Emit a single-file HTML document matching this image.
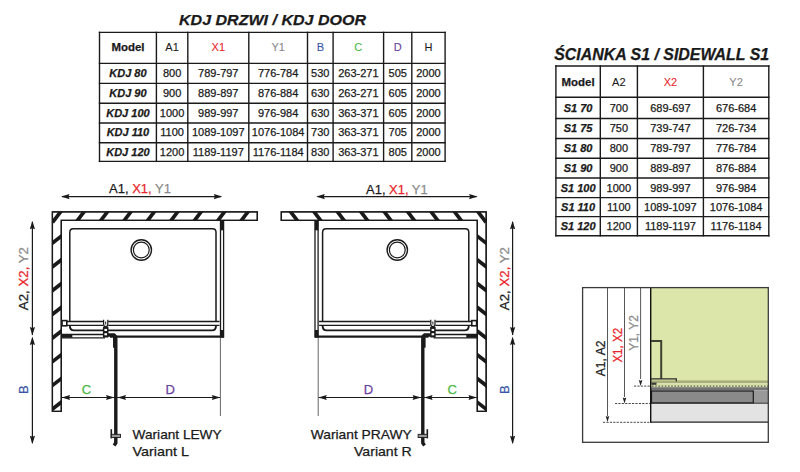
<!DOCTYPE html>
<html><head><meta charset="utf-8"><style>
html,body{margin:0;padding:0;background:#fff;width:800px;height:472px;overflow:hidden;position:relative}
svg text{font-family:"Liberation Sans",sans-serif}
</style></head><body>
<svg width="800" height="472" viewBox="0 0 800 472" style="position:absolute;left:0;top:0">
<text x="272.5" y="25.2" font-size="14.8" fill="#1a1a1a" font-weight="bold" font-style="italic" text-anchor="middle" textLength="187" lengthAdjust="spacingAndGlyphs" stroke="#1a1a1a" stroke-width="0.25" >KDJ DRZWI / KDJ DOOR</text>
<text x="661.7" y="59.6" font-size="15.9" fill="#1a1a1a" font-weight="bold" font-style="italic" text-anchor="middle" textLength="215" lengthAdjust="spacingAndGlyphs" stroke="#1a1a1a" stroke-width="0.25" >ŚCIANKA S1 / SIDEWALL S1</text>
<line x1="99.5" y1="31.7" x2="99.5" y2="162.1" stroke="#1a1a1a" stroke-width="1.4" />
<line x1="156.4" y1="31.7" x2="156.4" y2="162.1" stroke="#1a1a1a" stroke-width="1.4" />
<line x1="187.8" y1="31.7" x2="187.8" y2="162.1" stroke="#1a1a1a" stroke-width="1.4" />
<line x1="248.8" y1="31.7" x2="248.8" y2="162.1" stroke="#1a1a1a" stroke-width="1.4" />
<line x1="307.5" y1="31.7" x2="307.5" y2="162.1" stroke="#1a1a1a" stroke-width="1.4" />
<line x1="333.1" y1="31.7" x2="333.1" y2="162.1" stroke="#1a1a1a" stroke-width="1.4" />
<line x1="383.6" y1="31.7" x2="383.6" y2="162.1" stroke="#1a1a1a" stroke-width="1.4" />
<line x1="411.8" y1="31.7" x2="411.8" y2="162.1" stroke="#1a1a1a" stroke-width="1.4" />
<line x1="445.1" y1="31.7" x2="445.1" y2="162.1" stroke="#1a1a1a" stroke-width="1.4" />
<line x1="98.8" y1="32.4" x2="445.8" y2="32.4" stroke="#1a1a1a" stroke-width="1.4" />
<line x1="98.8" y1="63.4" x2="445.8" y2="63.4" stroke="#1a1a1a" stroke-width="1.4" />
<line x1="98.8" y1="83.4" x2="445.8" y2="83.4" stroke="#1a1a1a" stroke-width="1.4" />
<line x1="98.8" y1="103.2" x2="445.8" y2="103.2" stroke="#1a1a1a" stroke-width="1.4" />
<line x1="98.8" y1="123.0" x2="445.8" y2="123.0" stroke="#1a1a1a" stroke-width="1.4" />
<line x1="98.8" y1="142.7" x2="445.8" y2="142.7" stroke="#1a1a1a" stroke-width="1.4" />
<line x1="98.8" y1="161.4" x2="445.8" y2="161.4" stroke="#1a1a1a" stroke-width="1.4" />
<line x1="555.9" y1="65.3" x2="555.9" y2="236.5" stroke="#1a1a1a" stroke-width="1.4" />
<line x1="600.3" y1="65.3" x2="600.3" y2="236.5" stroke="#1a1a1a" stroke-width="1.4" />
<line x1="637.4" y1="65.3" x2="637.4" y2="236.5" stroke="#1a1a1a" stroke-width="1.4" />
<line x1="703.4" y1="65.3" x2="703.4" y2="236.5" stroke="#1a1a1a" stroke-width="1.4" />
<line x1="768.8" y1="65.3" x2="768.8" y2="236.5" stroke="#1a1a1a" stroke-width="1.4" />
<line x1="555.1999999999999" y1="66.0" x2="769.5" y2="66.0" stroke="#1a1a1a" stroke-width="1.4" />
<line x1="555.1999999999999" y1="97.3" x2="769.5" y2="97.3" stroke="#1a1a1a" stroke-width="1.4" />
<line x1="555.1999999999999" y1="118.5" x2="769.5" y2="118.5" stroke="#1a1a1a" stroke-width="1.4" />
<line x1="555.1999999999999" y1="138.5" x2="769.5" y2="138.5" stroke="#1a1a1a" stroke-width="1.4" />
<line x1="555.1999999999999" y1="158.2" x2="769.5" y2="158.2" stroke="#1a1a1a" stroke-width="1.4" />
<line x1="555.1999999999999" y1="178.0" x2="769.5" y2="178.0" stroke="#1a1a1a" stroke-width="1.4" />
<line x1="555.1999999999999" y1="197.6" x2="769.5" y2="197.6" stroke="#1a1a1a" stroke-width="1.4" />
<line x1="555.1999999999999" y1="216.6" x2="769.5" y2="216.6" stroke="#1a1a1a" stroke-width="1.4" />
<line x1="555.1999999999999" y1="235.8" x2="769.5" y2="235.8" stroke="#1a1a1a" stroke-width="1.4" />
<text x="127.95" y="51.4" font-size="11.0" fill="#1a1a1a" font-weight="bold" font-style="normal" text-anchor="middle" textLength="33" lengthAdjust="spacingAndGlyphs" stroke="#1a1a1a" stroke-width="0.25" >Model</text>
<text x="172.10000000000002" y="51.4" font-size="11.0" fill="#1a1a1a" font-weight="normal" font-style="normal" text-anchor="middle" stroke="#1a1a1a" stroke-width="0.1" >A1</text>
<text x="218.3" y="51.4" font-size="11.0" fill="#e8262b" font-weight="normal" font-style="normal" text-anchor="middle" stroke="#e8262b" stroke-width="0.1" >X1</text>
<text x="278.15" y="51.4" font-size="11.0" fill="#8a8a8a" font-weight="normal" font-style="normal" text-anchor="middle" stroke="#8a8a8a" stroke-width="0.1" >Y1</text>
<text x="320.3" y="51.4" font-size="11.0" fill="#3a56a8" font-weight="normal" font-style="normal" text-anchor="middle" stroke="#3a56a8" stroke-width="0.1" >B</text>
<text x="358.35" y="51.4" font-size="11.0" fill="#4db848" font-weight="normal" font-style="normal" text-anchor="middle" stroke="#4db848" stroke-width="0.1" >C</text>
<text x="397.70000000000005" y="51.4" font-size="11.0" fill="#6a3fa0" font-weight="normal" font-style="normal" text-anchor="middle" stroke="#6a3fa0" stroke-width="0.1" >D</text>
<text x="428.45000000000005" y="51.4" font-size="11.0" fill="#1a1a1a" font-weight="normal" font-style="normal" text-anchor="middle" stroke="#1a1a1a" stroke-width="0.1" >H</text>
<text x="127.95" y="77.0" font-size="11.0" fill="#1a1a1a" font-weight="bold" font-style="italic" text-anchor="middle" stroke="#1a1a1a" stroke-width="0.25" >KDJ 80</text>
<text x="172.10000000000002" y="77.0" font-size="11.0" fill="#1a1a1a" font-weight="normal" font-style="normal" text-anchor="middle" stroke="#1a1a1a" stroke-width="0.25" >800</text>
<text x="218.3" y="77.0" font-size="11.0" fill="#1a1a1a" font-weight="normal" font-style="normal" text-anchor="middle" stroke="#1a1a1a" stroke-width="0.25" >789-797</text>
<text x="278.15" y="77.0" font-size="11.0" fill="#1a1a1a" font-weight="normal" font-style="normal" text-anchor="middle" stroke="#1a1a1a" stroke-width="0.25" >776-784</text>
<text x="320.3" y="77.0" font-size="11.0" fill="#1a1a1a" font-weight="normal" font-style="normal" text-anchor="middle" stroke="#1a1a1a" stroke-width="0.25" >530</text>
<text x="358.35" y="77.0" font-size="11.0" fill="#1a1a1a" font-weight="normal" font-style="normal" text-anchor="middle" stroke="#1a1a1a" stroke-width="0.25" >263-271</text>
<text x="397.70000000000005" y="77.0" font-size="11.0" fill="#1a1a1a" font-weight="normal" font-style="normal" text-anchor="middle" stroke="#1a1a1a" stroke-width="0.25" >505</text>
<text x="428.45000000000005" y="77.0" font-size="11.0" fill="#1a1a1a" font-weight="normal" font-style="normal" text-anchor="middle" stroke="#1a1a1a" stroke-width="0.25" >2000</text>
<text x="127.95" y="96.9" font-size="11.0" fill="#1a1a1a" font-weight="bold" font-style="italic" text-anchor="middle" stroke="#1a1a1a" stroke-width="0.25" >KDJ 90</text>
<text x="172.10000000000002" y="96.9" font-size="11.0" fill="#1a1a1a" font-weight="normal" font-style="normal" text-anchor="middle" stroke="#1a1a1a" stroke-width="0.25" >900</text>
<text x="218.3" y="96.9" font-size="11.0" fill="#1a1a1a" font-weight="normal" font-style="normal" text-anchor="middle" stroke="#1a1a1a" stroke-width="0.25" >889-897</text>
<text x="278.15" y="96.9" font-size="11.0" fill="#1a1a1a" font-weight="normal" font-style="normal" text-anchor="middle" stroke="#1a1a1a" stroke-width="0.25" >876-884</text>
<text x="320.3" y="96.9" font-size="11.0" fill="#1a1a1a" font-weight="normal" font-style="normal" text-anchor="middle" stroke="#1a1a1a" stroke-width="0.25" >630</text>
<text x="358.35" y="96.9" font-size="11.0" fill="#1a1a1a" font-weight="normal" font-style="normal" text-anchor="middle" stroke="#1a1a1a" stroke-width="0.25" >263-271</text>
<text x="397.70000000000005" y="96.9" font-size="11.0" fill="#1a1a1a" font-weight="normal" font-style="normal" text-anchor="middle" stroke="#1a1a1a" stroke-width="0.25" >605</text>
<text x="428.45000000000005" y="96.9" font-size="11.0" fill="#1a1a1a" font-weight="normal" font-style="normal" text-anchor="middle" stroke="#1a1a1a" stroke-width="0.25" >2000</text>
<text x="127.95" y="116.69999999999999" font-size="11.0" fill="#1a1a1a" font-weight="bold" font-style="italic" text-anchor="middle" stroke="#1a1a1a" stroke-width="0.25" >KDJ 100</text>
<text x="172.10000000000002" y="116.69999999999999" font-size="11.0" fill="#1a1a1a" font-weight="normal" font-style="normal" text-anchor="middle" stroke="#1a1a1a" stroke-width="0.25" >1000</text>
<text x="218.3" y="116.69999999999999" font-size="11.0" fill="#1a1a1a" font-weight="normal" font-style="normal" text-anchor="middle" stroke="#1a1a1a" stroke-width="0.25" >989-997</text>
<text x="278.15" y="116.69999999999999" font-size="11.0" fill="#1a1a1a" font-weight="normal" font-style="normal" text-anchor="middle" stroke="#1a1a1a" stroke-width="0.25" >976-984</text>
<text x="320.3" y="116.69999999999999" font-size="11.0" fill="#1a1a1a" font-weight="normal" font-style="normal" text-anchor="middle" stroke="#1a1a1a" stroke-width="0.25" >630</text>
<text x="358.35" y="116.69999999999999" font-size="11.0" fill="#1a1a1a" font-weight="normal" font-style="normal" text-anchor="middle" stroke="#1a1a1a" stroke-width="0.25" >363-371</text>
<text x="397.70000000000005" y="116.69999999999999" font-size="11.0" fill="#1a1a1a" font-weight="normal" font-style="normal" text-anchor="middle" stroke="#1a1a1a" stroke-width="0.25" >605</text>
<text x="428.45000000000005" y="116.69999999999999" font-size="11.0" fill="#1a1a1a" font-weight="normal" font-style="normal" text-anchor="middle" stroke="#1a1a1a" stroke-width="0.25" >2000</text>
<text x="127.95" y="136.45" font-size="11.0" fill="#1a1a1a" font-weight="bold" font-style="italic" text-anchor="middle" stroke="#1a1a1a" stroke-width="0.25" >KDJ 110</text>
<text x="172.10000000000002" y="136.45" font-size="11.0" fill="#1a1a1a" font-weight="normal" font-style="normal" text-anchor="middle" stroke="#1a1a1a" stroke-width="0.25" >1100</text>
<text x="218.3" y="136.45" font-size="11.0" fill="#1a1a1a" font-weight="normal" font-style="normal" text-anchor="middle" stroke="#1a1a1a" stroke-width="0.25" >1089-1097</text>
<text x="278.15" y="136.45" font-size="11.0" fill="#1a1a1a" font-weight="normal" font-style="normal" text-anchor="middle" stroke="#1a1a1a" stroke-width="0.25" >1076-1084</text>
<text x="320.3" y="136.45" font-size="11.0" fill="#1a1a1a" font-weight="normal" font-style="normal" text-anchor="middle" stroke="#1a1a1a" stroke-width="0.25" >730</text>
<text x="358.35" y="136.45" font-size="11.0" fill="#1a1a1a" font-weight="normal" font-style="normal" text-anchor="middle" stroke="#1a1a1a" stroke-width="0.25" >363-371</text>
<text x="397.70000000000005" y="136.45" font-size="11.0" fill="#1a1a1a" font-weight="normal" font-style="normal" text-anchor="middle" stroke="#1a1a1a" stroke-width="0.25" >705</text>
<text x="428.45000000000005" y="136.45" font-size="11.0" fill="#1a1a1a" font-weight="normal" font-style="normal" text-anchor="middle" stroke="#1a1a1a" stroke-width="0.25" >2000</text>
<text x="127.95" y="155.65" font-size="11.0" fill="#1a1a1a" font-weight="bold" font-style="italic" text-anchor="middle" stroke="#1a1a1a" stroke-width="0.25" >KDJ 120</text>
<text x="172.10000000000002" y="155.65" font-size="11.0" fill="#1a1a1a" font-weight="normal" font-style="normal" text-anchor="middle" stroke="#1a1a1a" stroke-width="0.25" >1200</text>
<text x="218.3" y="155.65" font-size="11.0" fill="#1a1a1a" font-weight="normal" font-style="normal" text-anchor="middle" stroke="#1a1a1a" stroke-width="0.25" >1189-1197</text>
<text x="278.15" y="155.65" font-size="11.0" fill="#1a1a1a" font-weight="normal" font-style="normal" text-anchor="middle" stroke="#1a1a1a" stroke-width="0.25" >1176-1184</text>
<text x="320.3" y="155.65" font-size="11.0" fill="#1a1a1a" font-weight="normal" font-style="normal" text-anchor="middle" stroke="#1a1a1a" stroke-width="0.25" >830</text>
<text x="358.35" y="155.65" font-size="11.0" fill="#1a1a1a" font-weight="normal" font-style="normal" text-anchor="middle" stroke="#1a1a1a" stroke-width="0.25" >363-371</text>
<text x="397.70000000000005" y="155.65" font-size="11.0" fill="#1a1a1a" font-weight="normal" font-style="normal" text-anchor="middle" stroke="#1a1a1a" stroke-width="0.25" >805</text>
<text x="428.45000000000005" y="155.65" font-size="11.0" fill="#1a1a1a" font-weight="normal" font-style="normal" text-anchor="middle" stroke="#1a1a1a" stroke-width="0.25" >2000</text>
<text x="578.0999999999999" y="85.6" font-size="11.0" fill="#1a1a1a" font-weight="bold" font-style="normal" text-anchor="middle" textLength="33" lengthAdjust="spacingAndGlyphs" stroke="#1a1a1a" stroke-width="0.25" >Model</text>
<text x="618.8499999999999" y="85.6" font-size="11.0" fill="#1a1a1a" font-weight="normal" font-style="normal" text-anchor="middle" stroke="#1a1a1a" stroke-width="0.1" >A2</text>
<text x="670.4" y="85.6" font-size="11.0" fill="#e8262b" font-weight="normal" font-style="normal" text-anchor="middle" stroke="#e8262b" stroke-width="0.1" >X2</text>
<text x="736.0999999999999" y="85.6" font-size="11.0" fill="#8a8a8a" font-weight="normal" font-style="normal" text-anchor="middle" stroke="#8a8a8a" stroke-width="0.1" >Y2</text>
<text x="578.0999999999999" y="111.7" font-size="11.0" fill="#1a1a1a" font-weight="bold" font-style="italic" text-anchor="middle" stroke="#1a1a1a" stroke-width="0.25" >S1 70</text>
<text x="618.8499999999999" y="111.7" font-size="11.0" fill="#1a1a1a" font-weight="normal" font-style="normal" text-anchor="middle" stroke="#1a1a1a" stroke-width="0.25" >700</text>
<text x="670.4" y="111.7" font-size="11.0" fill="#1a1a1a" font-weight="normal" font-style="normal" text-anchor="middle" stroke="#1a1a1a" stroke-width="0.25" >689-697</text>
<text x="736.0999999999999" y="111.7" font-size="11.0" fill="#1a1a1a" font-weight="normal" font-style="normal" text-anchor="middle" stroke="#1a1a1a" stroke-width="0.25" >676-684</text>
<text x="578.0999999999999" y="132.3" font-size="11.0" fill="#1a1a1a" font-weight="bold" font-style="italic" text-anchor="middle" stroke="#1a1a1a" stroke-width="0.25" >S1 75</text>
<text x="618.8499999999999" y="132.3" font-size="11.0" fill="#1a1a1a" font-weight="normal" font-style="normal" text-anchor="middle" stroke="#1a1a1a" stroke-width="0.25" >750</text>
<text x="670.4" y="132.3" font-size="11.0" fill="#1a1a1a" font-weight="normal" font-style="normal" text-anchor="middle" stroke="#1a1a1a" stroke-width="0.25" >739-747</text>
<text x="736.0999999999999" y="132.3" font-size="11.0" fill="#1a1a1a" font-weight="normal" font-style="normal" text-anchor="middle" stroke="#1a1a1a" stroke-width="0.25" >726-734</text>
<text x="578.0999999999999" y="152.15" font-size="11.0" fill="#1a1a1a" font-weight="bold" font-style="italic" text-anchor="middle" stroke="#1a1a1a" stroke-width="0.25" >S1 80</text>
<text x="618.8499999999999" y="152.15" font-size="11.0" fill="#1a1a1a" font-weight="normal" font-style="normal" text-anchor="middle" stroke="#1a1a1a" stroke-width="0.25" >800</text>
<text x="670.4" y="152.15" font-size="11.0" fill="#1a1a1a" font-weight="normal" font-style="normal" text-anchor="middle" stroke="#1a1a1a" stroke-width="0.25" >789-797</text>
<text x="736.0999999999999" y="152.15" font-size="11.0" fill="#1a1a1a" font-weight="normal" font-style="normal" text-anchor="middle" stroke="#1a1a1a" stroke-width="0.25" >776-784</text>
<text x="578.0999999999999" y="171.9" font-size="11.0" fill="#1a1a1a" font-weight="bold" font-style="italic" text-anchor="middle" stroke="#1a1a1a" stroke-width="0.25" >S1 90</text>
<text x="618.8499999999999" y="171.9" font-size="11.0" fill="#1a1a1a" font-weight="normal" font-style="normal" text-anchor="middle" stroke="#1a1a1a" stroke-width="0.25" >900</text>
<text x="670.4" y="171.9" font-size="11.0" fill="#1a1a1a" font-weight="normal" font-style="normal" text-anchor="middle" stroke="#1a1a1a" stroke-width="0.25" >889-897</text>
<text x="736.0999999999999" y="171.9" font-size="11.0" fill="#1a1a1a" font-weight="normal" font-style="normal" text-anchor="middle" stroke="#1a1a1a" stroke-width="0.25" >876-884</text>
<text x="578.0999999999999" y="191.60000000000002" font-size="11.0" fill="#1a1a1a" font-weight="bold" font-style="italic" text-anchor="middle" stroke="#1a1a1a" stroke-width="0.25" >S1 100</text>
<text x="618.8499999999999" y="191.60000000000002" font-size="11.0" fill="#1a1a1a" font-weight="normal" font-style="normal" text-anchor="middle" stroke="#1a1a1a" stroke-width="0.25" >1000</text>
<text x="670.4" y="191.60000000000002" font-size="11.0" fill="#1a1a1a" font-weight="normal" font-style="normal" text-anchor="middle" stroke="#1a1a1a" stroke-width="0.25" >989-997</text>
<text x="736.0999999999999" y="191.60000000000002" font-size="11.0" fill="#1a1a1a" font-weight="normal" font-style="normal" text-anchor="middle" stroke="#1a1a1a" stroke-width="0.25" >976-984</text>
<text x="578.0999999999999" y="210.9" font-size="11.0" fill="#1a1a1a" font-weight="bold" font-style="italic" text-anchor="middle" stroke="#1a1a1a" stroke-width="0.25" >S1 110</text>
<text x="618.8499999999999" y="210.9" font-size="11.0" fill="#1a1a1a" font-weight="normal" font-style="normal" text-anchor="middle" stroke="#1a1a1a" stroke-width="0.25" >1100</text>
<text x="670.4" y="210.9" font-size="11.0" fill="#1a1a1a" font-weight="normal" font-style="normal" text-anchor="middle" stroke="#1a1a1a" stroke-width="0.25" >1089-1097</text>
<text x="736.0999999999999" y="210.9" font-size="11.0" fill="#1a1a1a" font-weight="normal" font-style="normal" text-anchor="middle" stroke="#1a1a1a" stroke-width="0.25" >1076-1084</text>
<text x="578.0999999999999" y="230.0" font-size="11.0" fill="#1a1a1a" font-weight="bold" font-style="italic" text-anchor="middle" stroke="#1a1a1a" stroke-width="0.25" >S1 120</text>
<text x="618.8499999999999" y="230.0" font-size="11.0" fill="#1a1a1a" font-weight="normal" font-style="normal" text-anchor="middle" stroke="#1a1a1a" stroke-width="0.25" >1200</text>
<text x="670.4" y="230.0" font-size="11.0" fill="#1a1a1a" font-weight="normal" font-style="normal" text-anchor="middle" stroke="#1a1a1a" stroke-width="0.25" >1189-1197</text>
<text x="736.0999999999999" y="230.0" font-size="11.0" fill="#1a1a1a" font-weight="normal" font-style="normal" text-anchor="middle" stroke="#1a1a1a" stroke-width="0.25" >1176-1184</text>
<defs><clipPath id="wallclip"><path d="M52.4,211.8 H257.3 V220.3 H61.3 V411.3 H52.4 Z"/></clipPath></defs>
<g>
<path d="M52.4,211.8 H257.3 V220.3 H61.3 V411.3 H52.4 Z" fill="#fff" stroke="#1a1a1a" stroke-width="1.3"/>
<g clip-path="url(#wallclip)" stroke="#1a1a1a" stroke-width="3.7">
<line x1="52.55" y1="222.30" x2="62.11" y2="209.80"/>
<line x1="75.97" y1="222.30" x2="85.53" y2="209.80"/>
<line x1="99.39" y1="222.30" x2="108.95" y2="209.80"/>
<line x1="122.81" y1="222.30" x2="132.37" y2="209.80"/>
<line x1="146.23" y1="222.30" x2="155.79" y2="209.80"/>
<line x1="169.65" y1="222.30" x2="179.21" y2="209.80"/>
<line x1="193.07" y1="222.30" x2="202.63" y2="209.80"/>
<line x1="216.49" y1="222.30" x2="226.05" y2="209.80"/>
<line x1="239.91" y1="222.30" x2="249.47" y2="209.80"/>
<line x1="263.33" y1="222.30" x2="272.89" y2="209.80"/>
<line x1="50.40" y1="244.65" x2="63.30" y2="234.65"/>
<line x1="50.40" y1="268.37" x2="63.30" y2="258.37"/>
<line x1="50.40" y1="292.09" x2="63.30" y2="282.09"/>
<line x1="50.40" y1="315.81" x2="63.30" y2="305.81"/>
<line x1="50.40" y1="339.53" x2="63.30" y2="329.53"/>
<line x1="50.40" y1="363.25" x2="63.30" y2="353.25"/>
<line x1="50.40" y1="386.97" x2="63.30" y2="376.97"/>
<line x1="50.40" y1="410.69" x2="63.30" y2="400.69"/>
</g>
<path d="M52.4,211.8 H257.3 V220.3 H61.3 V411.3 H52.4 Z" fill="none" stroke="#1a1a1a" stroke-width="1.3"/>
<path d="M69.8,321.5 V232.3 Q69.8,228.8 73.3,228.8 H212.5 Q216,228.8 216,232.3 V321.5" fill="none" stroke="#1a1a1a" stroke-width="1.5"/>
<circle cx="141.3" cy="250.0" r="10.2" fill="none" stroke="#1a1a1a" stroke-width="1.4"/>
<circle cx="141.3" cy="250.0" r="7.9" fill="none" stroke="#1a1a1a" stroke-width="1.2"/>
<line x1="220.5" y1="220.3" x2="220.5" y2="337.6" stroke="#1a1a1a" stroke-width="1.3" />
<line x1="223.6" y1="220.3" x2="223.6" y2="337.6" stroke="#1a1a1a" stroke-width="1.3" />
<rect x="220.3" y="220.3" width="3.5" height="10" fill="#1a1a1a"/>
<rect x="220.3" y="330" width="3.5" height="7.6" fill="#1a1a1a"/>
<line x1="61.3" y1="321.5" x2="219.5" y2="321.5" stroke="#1a1a1a" stroke-width="1.3" />
<line x1="61.3" y1="325.4" x2="219.5" y2="325.4" stroke="#1a1a1a" stroke-width="1.3" />
<path d="M69.8,325.4 Q69.8,330.4 74,330.4 H212 Q216,330.4 216,325.4" fill="none" stroke="#1a1a1a" stroke-width="1.9"/>
<line x1="61.3" y1="334.5" x2="105" y2="334.5" stroke="#1a1a1a" stroke-width="1.4" />
<line x1="61.3" y1="337.9" x2="105" y2="337.9" stroke="#1a1a1a" stroke-width="1.4" />
<rect x="61.3" y="334.3" width="11" height="3.4" fill="#1a1a1a"/>
<line x1="110" y1="336.6" x2="223.6" y2="336.6" stroke="#1a1a1a" stroke-width="2.3" />
<rect x="103.2" y="319.5" width="5" height="7" fill="#fff"/>
<path d="M103.6,319.8 V324 Q103.6,326.6 105.7,326.6 Q107.8,326.6 107.8,324 V319.8" fill="none" stroke="#1a1a1a" stroke-width="1.2"/>
<line x1="105.7" y1="321.5" x2="105.7" y2="324.5" stroke="#1a1a1a" stroke-width="1.0" />
<rect x="102.9" y="326.6" width="5.6" height="11" rx="1.2" fill="#1a1a1a"/>
<rect x="104.4" y="328.9" width="2.6" height="2.1" fill="#fff"/>
<rect x="104.4" y="333.2" width="2.6" height="2.1" fill="#fff"/>
<rect x="62" y="320.6" width="4.8" height="5.2" fill="#fff" stroke="#1a1a1a" stroke-width="1.6"/>
<path d="M108,335 H114 Q115.8,336 115.8,339 V443 L114.1,445.5" fill="none" stroke="#1a1a1a" stroke-width="3.4"/>
<line x1="113.9" y1="337" x2="113.9" y2="347.7" stroke="#1a1a1a" stroke-width="1.8" />
<line x1="220.4" y1="337.6" x2="220.4" y2="416" stroke="#555" stroke-width="0.9" />
<line x1="62" y1="397.5" x2="115" y2="397.5" stroke="#1a1a1a" stroke-width="1.2" />
<line x1="117" y1="397.5" x2="220" y2="397.5" stroke="#1a1a1a" stroke-width="1.2" />
<polygon points="61.6,397.5 70.10,394.90 69.08,397.50 70.10,400.10" fill="#1a1a1a"/>
<polygon points="114.5,397.5 106.00,400.10 107.02,397.50 106.00,394.90" fill="#1a1a1a"/>
<polygon points="117.5,397.5 126.00,394.90 124.98,397.50 126.00,400.10" fill="#1a1a1a"/>
<polygon points="220.3,397.5 211.80,400.10 212.82,397.50 211.80,394.90" fill="#1a1a1a"/>
<line x1="111.3" y1="429.2" x2="111.3" y2="438.4" stroke="#1a1a1a" stroke-width="1.6" />
<rect x="111.3" y="434.3" width="9.2" height="3.2" fill="#999" stroke="#1a1a1a" stroke-width="0.9"/>
<line x1="62" y1="196.6" x2="221" y2="196.6" stroke="#1a1a1a" stroke-width="1.2" />
<polygon points="61,196.6 69.50,194.00 68.48,196.60 69.50,199.20" fill="#1a1a1a"/>
<polygon points="222.3,196.6 213.80,199.20 214.82,196.60 213.80,194.00" fill="#1a1a1a"/>
</g>
<g transform="translate(538.6,0) scale(-1,1)">
<g>
<path d="M52.4,211.8 H257.3 V220.3 H61.3 V411.3 H52.4 Z" fill="#fff" stroke="#1a1a1a" stroke-width="1.3"/>
<g clip-path="url(#wallclip)" stroke="#1a1a1a" stroke-width="3.7">
<line x1="52.55" y1="222.30" x2="62.11" y2="209.80"/>
<line x1="75.97" y1="222.30" x2="85.53" y2="209.80"/>
<line x1="99.39" y1="222.30" x2="108.95" y2="209.80"/>
<line x1="122.81" y1="222.30" x2="132.37" y2="209.80"/>
<line x1="146.23" y1="222.30" x2="155.79" y2="209.80"/>
<line x1="169.65" y1="222.30" x2="179.21" y2="209.80"/>
<line x1="193.07" y1="222.30" x2="202.63" y2="209.80"/>
<line x1="216.49" y1="222.30" x2="226.05" y2="209.80"/>
<line x1="239.91" y1="222.30" x2="249.47" y2="209.80"/>
<line x1="263.33" y1="222.30" x2="272.89" y2="209.80"/>
<line x1="50.40" y1="244.65" x2="63.30" y2="234.65"/>
<line x1="50.40" y1="268.37" x2="63.30" y2="258.37"/>
<line x1="50.40" y1="292.09" x2="63.30" y2="282.09"/>
<line x1="50.40" y1="315.81" x2="63.30" y2="305.81"/>
<line x1="50.40" y1="339.53" x2="63.30" y2="329.53"/>
<line x1="50.40" y1="363.25" x2="63.30" y2="353.25"/>
<line x1="50.40" y1="386.97" x2="63.30" y2="376.97"/>
<line x1="50.40" y1="410.69" x2="63.30" y2="400.69"/>
</g>
<path d="M52.4,211.8 H257.3 V220.3 H61.3 V411.3 H52.4 Z" fill="none" stroke="#1a1a1a" stroke-width="1.3"/>
<path d="M69.8,321.5 V232.3 Q69.8,228.8 73.3,228.8 H212.5 Q216,228.8 216,232.3 V321.5" fill="none" stroke="#1a1a1a" stroke-width="1.5"/>
<circle cx="141.3" cy="250.0" r="10.2" fill="none" stroke="#1a1a1a" stroke-width="1.4"/>
<circle cx="141.3" cy="250.0" r="7.9" fill="none" stroke="#1a1a1a" stroke-width="1.2"/>
<line x1="220.5" y1="220.3" x2="220.5" y2="337.6" stroke="#1a1a1a" stroke-width="1.3" />
<line x1="223.6" y1="220.3" x2="223.6" y2="337.6" stroke="#1a1a1a" stroke-width="1.3" />
<rect x="220.3" y="220.3" width="3.5" height="10" fill="#1a1a1a"/>
<rect x="220.3" y="330" width="3.5" height="7.6" fill="#1a1a1a"/>
<line x1="61.3" y1="321.5" x2="219.5" y2="321.5" stroke="#1a1a1a" stroke-width="1.3" />
<line x1="61.3" y1="325.4" x2="219.5" y2="325.4" stroke="#1a1a1a" stroke-width="1.3" />
<path d="M69.8,325.4 Q69.8,330.4 74,330.4 H212 Q216,330.4 216,325.4" fill="none" stroke="#1a1a1a" stroke-width="1.9"/>
<line x1="61.3" y1="334.5" x2="105" y2="334.5" stroke="#1a1a1a" stroke-width="1.4" />
<line x1="61.3" y1="337.9" x2="105" y2="337.9" stroke="#1a1a1a" stroke-width="1.4" />
<rect x="61.3" y="334.3" width="11" height="3.4" fill="#1a1a1a"/>
<line x1="110" y1="336.6" x2="223.6" y2="336.6" stroke="#1a1a1a" stroke-width="2.3" />
<rect x="103.2" y="319.5" width="5" height="7" fill="#fff"/>
<path d="M103.6,319.8 V324 Q103.6,326.6 105.7,326.6 Q107.8,326.6 107.8,324 V319.8" fill="none" stroke="#1a1a1a" stroke-width="1.2"/>
<line x1="105.7" y1="321.5" x2="105.7" y2="324.5" stroke="#1a1a1a" stroke-width="1.0" />
<rect x="102.9" y="326.6" width="5.6" height="11" rx="1.2" fill="#1a1a1a"/>
<rect x="104.4" y="328.9" width="2.6" height="2.1" fill="#fff"/>
<rect x="104.4" y="333.2" width="2.6" height="2.1" fill="#fff"/>
<rect x="62" y="320.6" width="4.8" height="5.2" fill="#fff" stroke="#1a1a1a" stroke-width="1.6"/>
<path d="M108,335 H114 Q115.8,336 115.8,339 V443 L114.1,445.5" fill="none" stroke="#1a1a1a" stroke-width="3.4"/>
<line x1="113.9" y1="337" x2="113.9" y2="347.7" stroke="#1a1a1a" stroke-width="1.8" />
<line x1="220.4" y1="337.6" x2="220.4" y2="416" stroke="#555" stroke-width="0.9" />
<line x1="62" y1="397.5" x2="115" y2="397.5" stroke="#1a1a1a" stroke-width="1.2" />
<line x1="117" y1="397.5" x2="220" y2="397.5" stroke="#1a1a1a" stroke-width="1.2" />
<polygon points="61.6,397.5 70.10,394.90 69.08,397.50 70.10,400.10" fill="#1a1a1a"/>
<polygon points="114.5,397.5 106.00,400.10 107.02,397.50 106.00,394.90" fill="#1a1a1a"/>
<polygon points="117.5,397.5 126.00,394.90 124.98,397.50 126.00,400.10" fill="#1a1a1a"/>
<polygon points="220.3,397.5 211.80,400.10 212.82,397.50 211.80,394.90" fill="#1a1a1a"/>
<line x1="111.3" y1="429.2" x2="111.3" y2="438.4" stroke="#1a1a1a" stroke-width="1.6" />
<rect x="111.3" y="434.3" width="9.2" height="3.2" fill="#999" stroke="#1a1a1a" stroke-width="0.9"/>
<line x1="62" y1="196.6" x2="221" y2="196.6" stroke="#1a1a1a" stroke-width="1.2" />
<polygon points="61,196.6 69.50,194.00 68.48,196.60 69.50,199.20" fill="#1a1a1a"/>
<polygon points="222.3,196.6 213.80,199.20 214.82,196.60 213.80,194.00" fill="#1a1a1a"/>
</g>
</g>
<line x1="32.4" y1="222" x2="32.4" y2="335" stroke="#1a1a1a" stroke-width="1.2" />
<polygon points="32.4,220.7 35.00,229.20 32.40,228.18 29.80,229.20" fill="#1a1a1a"/>
<polygon points="32.4,335.6 29.80,327.10 32.40,328.12 35.00,327.10" fill="#1a1a1a"/>
<line x1="32.4" y1="339" x2="32.4" y2="443" stroke="#1a1a1a" stroke-width="1.2" />
<polygon points="32.4,336.6 35.00,345.10 32.40,344.08 29.80,345.10" fill="#1a1a1a"/>
<polygon points="32.4,444.2 29.80,435.70 32.40,436.72 35.00,435.70" fill="#1a1a1a"/>
<line x1="512.6" y1="222" x2="512.6" y2="335" stroke="#1a1a1a" stroke-width="1.2" />
<polygon points="512.6,220.7 515.20,229.20 512.60,228.18 510.00,229.20" fill="#1a1a1a"/>
<polygon points="512.6,335.6 510.00,327.10 512.60,328.12 515.20,327.10" fill="#1a1a1a"/>
<line x1="512.6" y1="339" x2="512.6" y2="443" stroke="#1a1a1a" stroke-width="1.2" />
<polygon points="512.6,336.6 515.20,345.10 512.60,344.08 510.00,345.10" fill="#1a1a1a"/>
<polygon points="512.6,444.2 510.00,435.70 512.60,436.72 515.20,435.70" fill="#1a1a1a"/>
<text x="109" y="193.0" font-size="13.6" stroke-width="0.25" text-anchor="start" textLength="62" lengthAdjust="spacingAndGlyphs"><tspan fill="#1a1a1a" stroke="#1a1a1a">A1, </tspan><tspan fill="#e8262b" stroke="#e8262b">X1, </tspan><tspan fill="#8a8a8a" stroke="#8a8a8a">Y1</tspan></text>
<text x="366.1" y="193.5" font-size="13.6" stroke-width="0.25" text-anchor="start" textLength="61.6" lengthAdjust="spacingAndGlyphs"><tspan fill="#1a1a1a" stroke="#1a1a1a">A1, </tspan><tspan fill="#e8262b" stroke="#e8262b">X1, </tspan><tspan fill="#8a8a8a" stroke="#8a8a8a">Y1</tspan></text>
<text transform="translate(27.8,278.6) rotate(-90)" font-size="13.3" stroke-width="0.25" text-anchor="middle" textLength="63.2" lengthAdjust="spacingAndGlyphs"><tspan fill="#1a1a1a" stroke="#1a1a1a">A2, </tspan><tspan fill="#e8262b" stroke="#e8262b">X2, </tspan><tspan fill="#8a8a8a" stroke="#8a8a8a">Y2</tspan></text>
<text transform="translate(509.2,278.6) rotate(-90)" font-size="13.3" stroke-width="0.25" text-anchor="middle" textLength="63.2" lengthAdjust="spacingAndGlyphs"><tspan fill="#1a1a1a" stroke="#1a1a1a">A2, </tspan><tspan fill="#e8262b" stroke="#e8262b">X2, </tspan><tspan fill="#8a8a8a" stroke="#8a8a8a">Y2</tspan></text>
<text transform="translate(27.5,389.6) rotate(-90)" font-size="13" stroke-width="0.25" text-anchor="middle"><tspan fill="#3a56a8" stroke="#3a56a8">B</tspan></text>
<text transform="translate(509.0,389.6) rotate(-90)" font-size="13" stroke-width="0.25" text-anchor="middle"><tspan fill="#3a56a8" stroke="#3a56a8">B</tspan></text>
<text x="86.5" y="393.6" font-size="13" fill="#4db848" font-weight="normal" font-style="normal" text-anchor="middle" stroke="#4db848" stroke-width="0.25" >C</text>
<text x="170.2" y="393.6" font-size="13" fill="#6a3fa0" font-weight="normal" font-style="normal" text-anchor="middle" stroke="#6a3fa0" stroke-width="0.25" >D</text>
<text x="368.4" y="393.6" font-size="13" fill="#6a3fa0" font-weight="normal" font-style="normal" text-anchor="middle" stroke="#6a3fa0" stroke-width="0.25" >D</text>
<text x="452.1" y="393.6" font-size="13" fill="#4db848" font-weight="normal" font-style="normal" text-anchor="middle" stroke="#4db848" stroke-width="0.25" >C</text>
<text x="132.6" y="439.3" font-size="13.0" fill="#1a1a1a" font-weight="normal" font-style="normal" text-anchor="start" textLength="89" lengthAdjust="spacingAndGlyphs" stroke="#1a1a1a" stroke-width="0.25" >Wariant LEWY</text>
<text x="132.6" y="456.2" font-size="13.0" fill="#1a1a1a" font-weight="normal" font-style="normal" text-anchor="start" textLength="56.4" lengthAdjust="spacingAndGlyphs" stroke="#1a1a1a" stroke-width="0.25" >Variant L</text>
<text x="411.7" y="439.3" font-size="13.0" fill="#1a1a1a" font-weight="normal" font-style="normal" text-anchor="end" textLength="101" lengthAdjust="spacingAndGlyphs" stroke="#1a1a1a" stroke-width="0.25" >Wariant PRAWY</text>
<text x="411.7" y="456.2" font-size="13.0" fill="#1a1a1a" font-weight="normal" font-style="normal" text-anchor="end" textLength="57.7" lengthAdjust="spacingAndGlyphs" stroke="#1a1a1a" stroke-width="0.25" >Variant R</text>
<rect x="582.6" y="287.6" width="185.7" height="154.7" fill="#fff"/>
<rect x="650.6" y="287.6" width="117.7" height="93.5" fill="#dde6aa"/>
<rect x="650.6" y="380.4" width="117.7" height="2.9" fill="#a7ae7a"/>
<rect x="650.6" y="383.3" width="117.7" height="3.9" fill="#d6dfa6"/>
<rect x="651.5" y="382.6" width="5" height="2.2" fill="#3a3a3a"/>
<line x1="652" y1="386.1" x2="768" y2="386.1" stroke="#444" stroke-width="1.0" stroke-dasharray="1.6,1.6"/>
<rect x="650.6" y="387.2" width="117.7" height="3.1" fill="#737373"/>
<rect x="650.6" y="390.3" width="117.7" height="12.6" fill="#999"/>
<rect x="651.5" y="391.0" width="101.8" height="12" fill="#8a8a8a" stroke="#1a1a1a" stroke-width="1.2"/>
<rect x="650.6" y="403.6" width="117.7" height="18.4" fill="#e3e3e3"/>
<line x1="650.6" y1="403.2" x2="768.3" y2="403.2" stroke="#222" stroke-width="1.0" />
<line x1="650.6" y1="422.2" x2="768.3" y2="422.2" stroke="#222" stroke-width="1.2" />
<line x1="650.7" y1="287.6" x2="650.7" y2="422.8" stroke="#111" stroke-width="1.4" />
<rect x="582.6" y="287.6" width="185.7" height="154.7" fill="none" stroke="#3a3a3a" stroke-width="1.3"/>
<path d="M651,341.0 H661.2 V378.9" fill="none" stroke="#3e4130" stroke-width="2.0"/>
<path d="M651,378.9 H676.3 V381.5" fill="none" stroke="#2a2a2a" stroke-width="1.2"/>
<line x1="607.5" y1="287.6" x2="607.5" y2="416" stroke="#444" stroke-width="0.9" />
<polygon points="607.5,422 605.70,416.00 607.50,416.72 609.30,416.00" fill="#222"/>
<line x1="624.5" y1="287.6" x2="624.5" y2="397" stroke="#444" stroke-width="0.9" />
<polygon points="624.5,403.6 622.70,397.60 624.50,398.32 626.30,397.60" fill="#222"/>
<line x1="640.6" y1="287.6" x2="640.6" y2="379" stroke="#444" stroke-width="0.9" />
<polygon points="640.6,386.0 638.80,380.00 640.60,380.72 642.40,380.00" fill="#222"/>
<line x1="603" y1="422.3" x2="650" y2="422.3" stroke="#333" stroke-width="0.9" stroke-dasharray="2.2,1.2"/>
<line x1="615" y1="403.5" x2="650" y2="403.5" stroke="#333" stroke-width="0.9" stroke-dasharray="2.2,1.2"/>
<line x1="634" y1="386.1" x2="650" y2="386.1" stroke="#333" stroke-width="0.9" stroke-dasharray="2.2,1.2"/>
<text transform="translate(604.9,340.6) rotate(-90)" font-size="13.0" stroke-width="0.25" text-anchor="end" textLength="35.6" lengthAdjust="spacingAndGlyphs"><tspan fill="#1a1a1a" stroke="#1a1a1a">A1, A2</tspan></text>
<text transform="translate(621.6,327.9) rotate(-90)" font-size="13.0" stroke-width="0.25" text-anchor="end" textLength="34.7" lengthAdjust="spacingAndGlyphs"><tspan fill="#e8262b" stroke="#e8262b">X1, X2</tspan></text>
<text transform="translate(638.0,315.2) rotate(-90)" font-size="13.0" stroke-width="0.25" text-anchor="end" textLength="35.6" lengthAdjust="spacingAndGlyphs"><tspan fill="#8a8a8a" stroke="#8a8a8a">Y1, Y2</tspan></text>
</svg>
</body></html>
